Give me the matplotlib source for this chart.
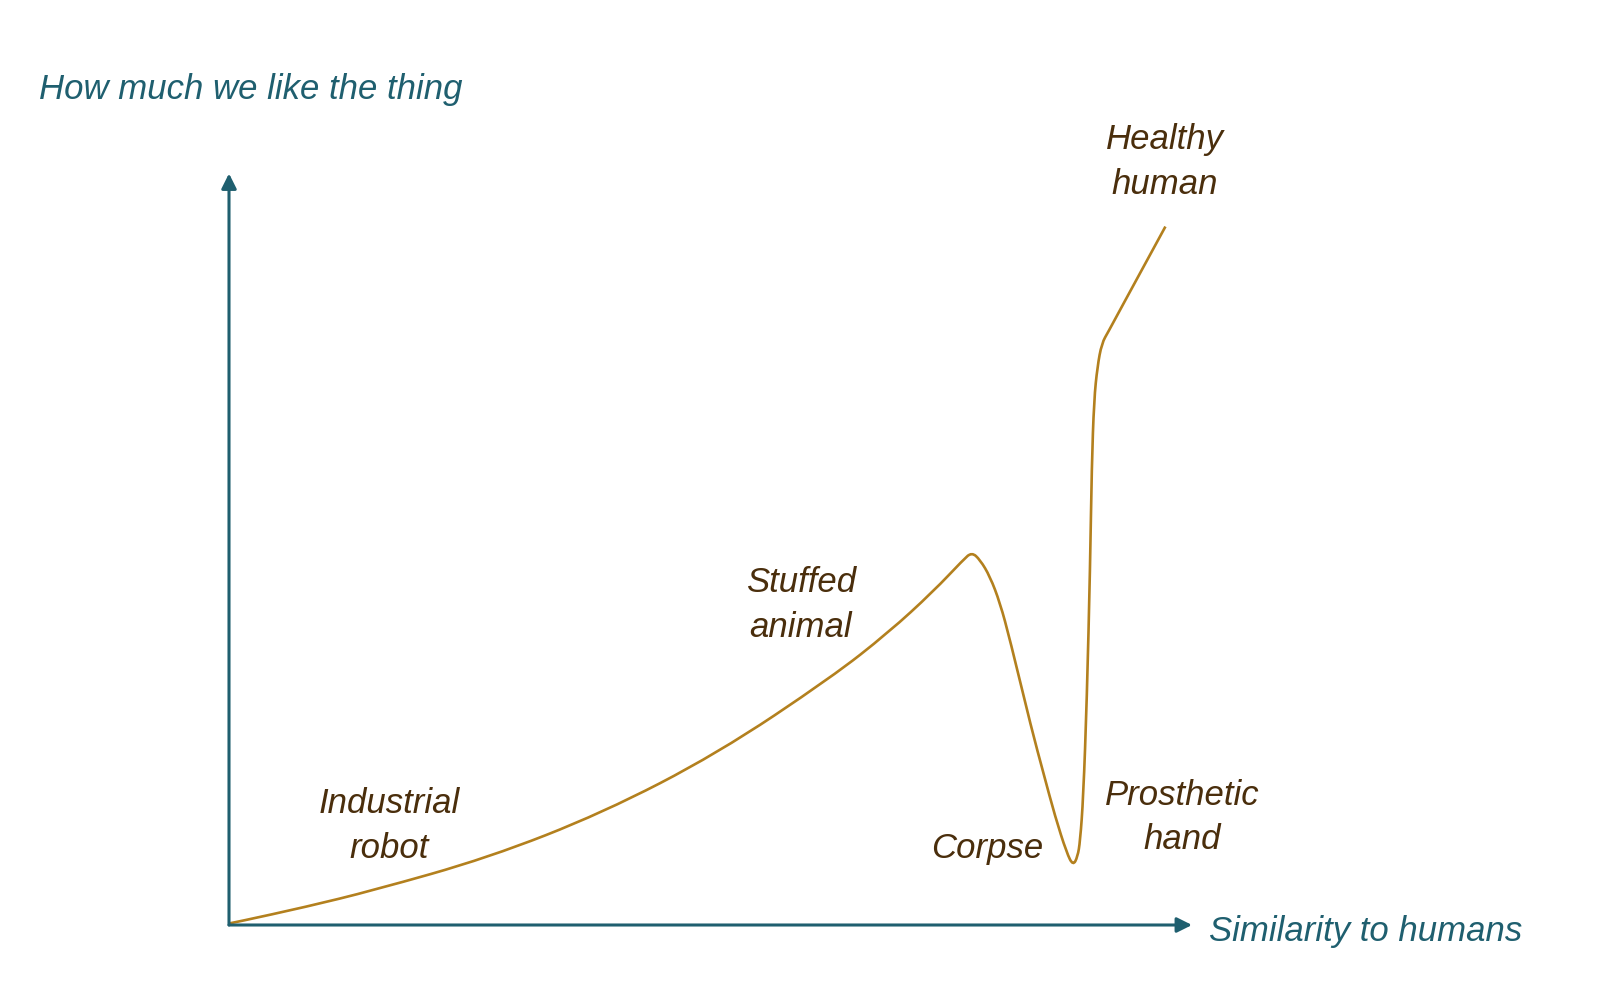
import matplotlib
matplotlib.use('Agg')
import matplotlib.pyplot as plt
from matplotlib.path import Path
from matplotlib.patches import PathPatch

# Uncanny valley curve (0-100 on both axes)
similarity = [0.0, 1.0, 7.95, 14.95, 26.94, 38.81, 50.69, 62.57, 68.5, 73.13,
              76.25, 77.13, 77.99, 79.02, 80.06, 81.1, 83.35, 84.57, 85.78,
              86.99, 87.65, 88.12, 88.38, 88.71, 89.08, 89.42, 89.59, 89.83,
              90.18, 90.63, 91.32, 92.53, 97.24]
liking = [0.2, 0.45, 2.4, 4.6, 8.96, 14.93, 22.8, 32.97, 38.94, 44.38,
          48.6, 49.6, 48.6, 46.38, 42.88, 37.96, 26.05, 20.23, 14.46,
          9.59, 7.9, 9.09, 11.13, 16.96, 29.99, 47.71, 61.0, 69.88,
          74.3, 77.41, 78.97, 81.85, 92.94]

labels = ['Healthy\nhuman', 'Industrial\nrobot', 'Stuffed\nanimal', 'Corpse', 'Prosthetic\nhand']
label_x = [97.2, 16.6, 59.4, 78.7, 99.0]
label_y = [101.5, 13.2, 42.6, 10.2, 14.3]

x_title = 'Similarity to humans'
y_title = 'How much we like the thing'

teal = '#1f5f6f'
brown = '#4a2e0c'
gold = '#b3801e'

plt.rcParams['font.family'] = ['Liberation Sans', 'DejaVu Sans']

fig = plt.figure(figsize=(16, 9.89), dpi=100)
W, H = 1600, 989
x0, y0, x1, y1 = 229, 925, 1192, 173.5
ax = fig.add_axes([x0 / W, 1 - y0 / H, (x1 - x0) / W, (y0 - y1) / H])
ax.set_xlim(0, 100)
ax.set_ylim(0, 100)
ax.axis('off')

# axes with arrow heads
arrow = dict(arrowstyle='-|>,head_length=0.9,head_width=0.45', color=teal, lw=2.2,
             shrinkA=0, shrinkB=0)
ax.annotate('', xy=(100, 0), xytext=(0, 0), arrowprops=arrow, annotation_clip=False)
ax.annotate('', xy=(0, 100), xytext=(0, 0), arrowprops=arrow, annotation_clip=False)

# smooth the read points with quadratic bezier segments between midpoints
pts = list(zip(similarity, liking))
verts = [pts[0]]
codes = [Path.MOVETO]
for i in range(1, len(pts) - 1):
    mid = ((pts[i][0] + pts[i + 1][0]) / 2, (pts[i][1] + pts[i + 1][1]) / 2)
    verts += [pts[i], mid]
    codes += [Path.CURVE3, Path.CURVE3]
verts.append(pts[-1])
codes.append(Path.LINETO)
ax.add_patch(PathPatch(Path(verts, codes), facecolor='none', edgecolor=gold,
                       lw=1.9, clip_on=False, joinstyle='round', capstyle='butt'))

for t, lx, ly in zip(labels, label_x, label_y):
    ax.text(lx, ly, t, color=brown, fontsize=25, style='italic', ha='center',
            va='center', linespacing=1.45)

fig.text(39 / W, 1 - 90 / H, y_title, color=teal, fontsize=25, style='italic',
         ha='left', va='center')
fig.text(1209 / W, 1 - 931 / H, x_title, color=teal, fontsize=25, style='italic',
         ha='left', va='center')

fig.savefig('out.png', dpi=100, facecolor='white')
